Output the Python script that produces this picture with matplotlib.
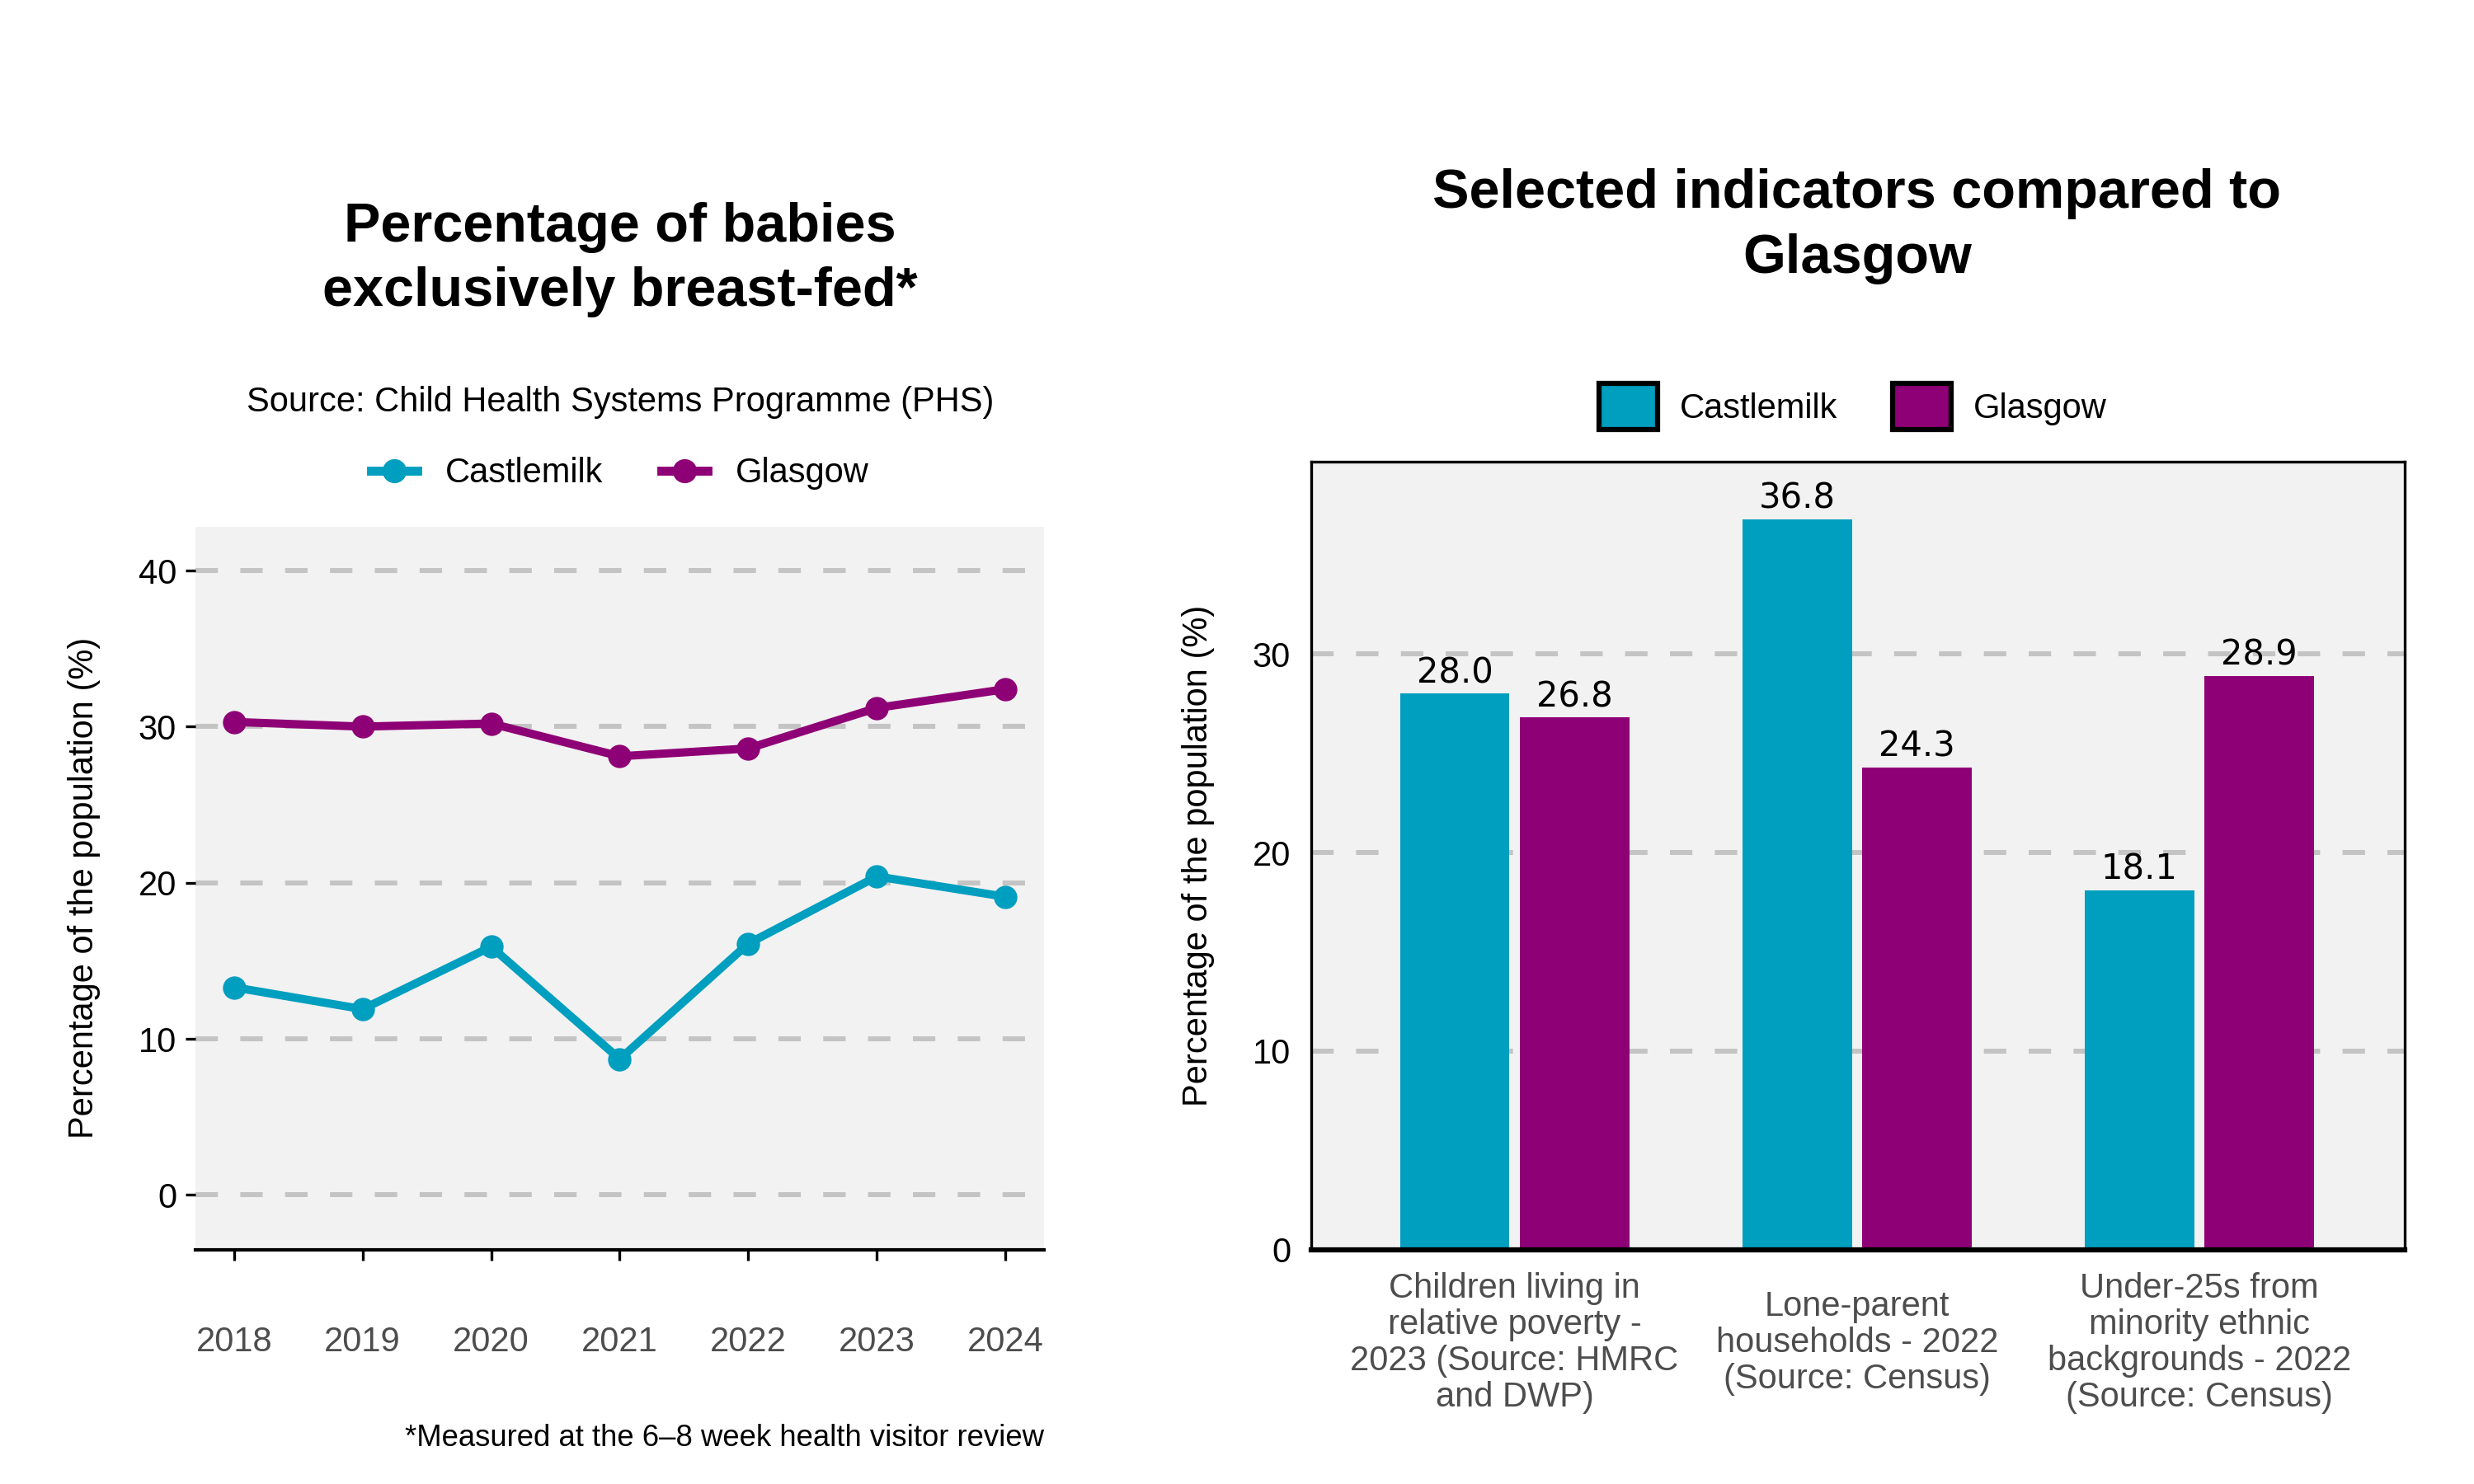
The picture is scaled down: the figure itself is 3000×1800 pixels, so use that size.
import matplotlib
matplotlib.use("Agg")
import matplotlib.pyplot as plt
from matplotlib.lines import Line2D
from matplotlib.patches import Patch
import numpy as np

# -----------------------------
# data
# -----------------------------
years = [2018, 2019, 2020, 2021, 2022, 2023, 2024]
castlemilk_bf = [13.3, 11.9, 15.9, 8.7, 16.1, 20.4, 19.1]
glasgow_bf = [30.3, 30.0, 30.2, 28.1, 28.6, 31.2, 32.4]

indicators = [
    "Children living in\nrelative poverty -\n2023 (Source: HMRC\nand DWP)",
    "Lone-parent\nhouseholds - 2022\n(Source: Census)",
    "Under-25s from\nminority ethnic\nbackgrounds - 2022\n(Source: Census)",
]
castlemilk_ind = [28.0, 36.8, 18.1]
glasgow_ind = [26.8, 24.3, 28.9]

TEAL = "#009EBF"
PURPLE = "#8E0075"
PANEL = "#F2F2F2"
GRID = "#C4C4C4"
GREY_TXT = "#4D4D4D"
DASH = (0, (4.5, 4.5))
LW = 2.4
MS = 5.8

plt.rcParams["font.family"] = ["Liberation Sans", "DejaVu Sans"]

fig = plt.figure(figsize=(10, 6), dpi=300)
ax1 = fig.add_axes([0.079, 0.158, 0.343, 0.487])
ax2 = fig.add_axes([0.530, 0.158, 0.442, 0.531])

# -----------------------------
# left: breast-feeding trend
# -----------------------------
ax1.set_facecolor(PANEL)
ax1.yaxis.grid(True, linestyle=DASH, color=GRID, lw=1.45)
ax1.set_axisbelow(True)
ax1.plot(years, castlemilk_bf, color=TEAL, lw=LW, marker="o", ms=MS, zorder=3)
ax1.plot(years, glasgow_bf, color=PURPLE, lw=LW, marker="o", ms=MS, zorder=3)
ax1.set_xlim(2017.7, 2024.3)
ax1.set_ylim(-3.5, 42.8)
ax1.set_xticks(years)
ax1.set_yticks([0, 10, 20, 30, 40])
for s in ["top", "right", "left"]:
    ax1.spines[s].set_visible(False)
ax1.spines["bottom"].set_color("black")
ax1.spines["bottom"].set_linewidth(1.0)
ax1.tick_params(axis="y", length=3, width=0.8, color="black", pad=2.5,
                labelsize=10, labelcolor="black")
ax1.tick_params(axis="x", length=3, width=0.8, color="black", pad=24,
                labelsize=10, labelcolor=GREY_TXT)
for lbl in ax1.get_xticklabels():
    lbl.set_va("center")
ax1.set_ylabel("Percentage of the population (%)", fontsize=10)
ax1.yaxis.set_label_coords(-0.112, 0.5)

fig.text(0.2506, 0.825, "Percentage of babies\nexclusively breast-fed*",
         ha="center", va="center", fontsize=16, fontweight="bold",
         linespacing=1.35)
fig.text(0.2506, 0.729, "Source: Child Health Systems Programme (PHS)",
         ha="center", va="center", fontsize=10)
fig.text(0.422, 0.031, "*Measured at the 6\u20138 week health visitor review",
         ha="right", va="center", fontsize=8.75)

line_handles = [
    Line2D([], [], color=TEAL, lw=2.6, marker="o", ms=6),
    Line2D([], [], color=PURPLE, lw=2.6, marker="o", ms=6),
]
fig.legend(line_handles, ["Castlemilk", "Glasgow"], loc="center",
           bbox_to_anchor=(0.2506, 0.681), ncol=2, frameon=False,
           fontsize=10, handlelength=1.35, handletextpad=0.8,
           columnspacing=1.7)

# -----------------------------
# right: indicator bars
# -----------------------------
x = np.arange(len(indicators))
ax2.set_facecolor(PANEL)
ax2.yaxis.grid(True, linestyle=DASH, color=GRID, lw=1.45)
ax2.set_axisbelow(True)
b1 = ax2.bar(x - 0.175, castlemilk_ind, 0.32, color=TEAL, zorder=2)
b2 = ax2.bar(x + 0.175, glasgow_ind, 0.32, color=PURPLE, zorder=2)
for b in (b1, b2):
    ax2.bar_label(b, fmt="%.1f", padding=1, fontsize=10,
                  family="DejaVu Sans", color="black")
ax2.set_xlim(-0.594, 2.6)
ax2.set_ylim(0, 39.7)
ax2.set_yticks([0, 10, 20, 30])
ax2.set_xticks(x)
ax2.set_xticklabels(indicators, linespacing=1.12)
for s in ax2.spines.values():
    s.set_color("black")
    s.set_linewidth(0.8)
ax2.spines["bottom"].set_linewidth(1.5)
ax2.tick_params(axis="y", length=0, pad=6, labelsize=10, labelcolor="black")
ax2.tick_params(axis="x", length=0, pad=27.2, labelsize=10,
                labelcolor=GREY_TXT)
for lbl in ax2.get_xticklabels():
    lbl.set_va("center")
ax2.set_ylabel("Percentage of the population (%)", fontsize=10)
ax2.yaxis.set_label_coords(-0.088, 0.5)

fig.text(0.7506, 0.8475, "Selected indicators compared to\nGlasgow",
         ha="center", va="center", fontsize=16, fontweight="bold",
         linespacing=1.35)

patch_handles = [
    Patch(facecolor=TEAL, edgecolor="black", lw=1.5),
    Patch(facecolor=PURPLE, edgecolor="black", lw=1.5),
]
fig.legend(patch_handles, ["Castlemilk", "Glasgow"], loc="center",
           bbox_to_anchor=(0.749, 0.726), ncol=2, frameon=False,
           fontsize=10, handlelength=1.7, handleheight=1.7,
           handletextpad=0.65, columnspacing=1.6)

fig.savefig("out.png", dpi=300)
